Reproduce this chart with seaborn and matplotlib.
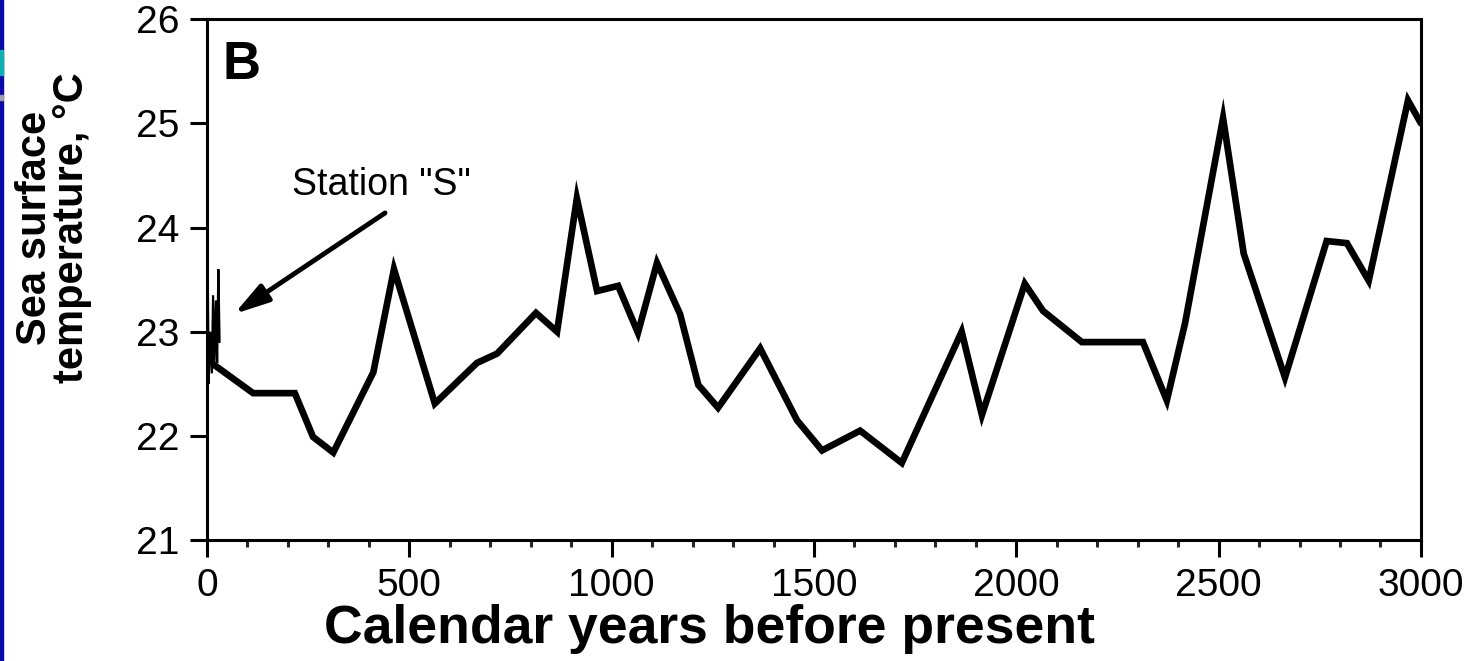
import matplotlib
matplotlib.use("Agg")
import matplotlib.pyplot as plt
from matplotlib.patches import Rectangle
from matplotlib.ticker import MultipleLocator
import seaborn as sns

# Station "S" record (thin line near present)
station_years = [0, 2, 4, 8, 12, 15, 18, 22, 25, 28, 31]
station_sst = [22.8, 23.5, 22.5, 23.0, 22.6, 23.35, 22.65, 23.3, 22.7, 23.6, 22.9]

# Core record (thick line)
core_years = [18, 114, 217, 262, 312, 411, 462, 563, 667, 717, 813, 865, 914, 964,
              1016, 1065, 1112, 1169, 1214, 1263, 1367, 1458, 1520, 1614, 1717, 1865,
              1915, 2021, 2066, 2162, 2313, 2372, 2417, 2511, 2562, 2664, 2767, 2817,
              2871, 2968, 3000]
core_sst = [22.68, 22.41, 22.41, 21.99, 21.84, 22.61, 23.60, 22.31, 22.70, 22.79, 23.18,
            23.00, 24.28, 23.39, 23.44, 22.99, 23.66, 23.17, 22.49, 22.27, 22.84, 22.15,
            21.86, 22.05, 21.74, 23.00, 22.20, 23.46, 23.20, 22.90, 22.90, 22.34, 23.08,
            25.05, 23.75, 22.56, 23.87, 23.85, 23.49, 25.22, 25.00]

x_ticks = [0, 500, 1000, 1500, 2000, 2500, 3000]
y_ticks = [21, 22, 23, 24, 25, 26]

sns.set_style("ticks")
plt.rcParams["font.family"] = ["Liberation Sans", "DejaVu Sans"]
plt.rcParams["text.color"] = "black"
plt.rcParams["axes.labelcolor"] = "black"

fig = plt.figure(figsize=(14.84, 6.61), dpi=100)
ax = fig.add_axes([0.1395, 0.183, 0.818, 0.788])

sns.lineplot(x=station_years, y=station_sst, ax=ax, color="black", lw=1.6,
             sort=False, estimator=None, solid_joinstyle="miter")
sns.lineplot(x=core_years, y=core_sst, ax=ax, color="black", lw=4.8,
             sort=False, estimator=None, solid_joinstyle="miter")

ax.set_xlim(0, 3000)
ax.set_ylim(21, 26)
ax.set_xticks(x_ticks)
ax.set_yticks(y_ticks)
ax.xaxis.set_minor_locator(MultipleLocator(100))
ax.tick_params(which="major", direction="out", length=12, width=2.2,
               labelsize=28, pad=8, color="black", labelcolor="black")
ax.tick_params(which="minor", axis="x", direction="out", length=5, width=2.2)
for s in ax.spines.values():
    s.set_visible(True)
    s.set_linewidth(2.2)
    s.set_color("black")

ax.set_xlabel("Calendar years before present", fontsize=38.5, fontweight="bold")
ax.xaxis.set_label_coords(0.414, -0.122)
ax.set_ylabel("Sea surface\ntemperature, \u00b0C", fontsize=30, fontweight="bold",
              linespacing=0.9)
ax.yaxis.set_label_coords(-0.095, 0.6)

ax.text(0.013, 0.885, "B", transform=ax.transAxes, fontsize=38, fontweight="bold",
        ha="left", va="baseline")

# Station "S" label and arrow
ax.text(432, 24.41, 'Station "S"', fontsize=27, ha="center", va="center")
ax.annotate("", xy=(67, 23.17), xytext=(440, 24.14),
            arrowprops=dict(arrowstyle="-|>,head_length=1.05,head_width=0.3",
                            mutation_scale=20, lw=3.5, color="black",
                            shrinkA=0, shrinkB=0))

# blue slide edge on the far left
fig.patches.append(Rectangle((0, 0), 3 / 1484, 1, transform=fig.transFigure,
                             color="#0a0aa8", zorder=0))
fig.patches.append(Rectangle((0, 1 - 75 / 661), 3 / 1484, 25 / 661,
                             transform=fig.transFigure, color="#10b0b0", zorder=1))
fig.patches.append(Rectangle((0, 1 - 100 / 661), 3 / 1484, 5 / 661,
                             transform=fig.transFigure, color="#a0a0a0", zorder=1))

fig.savefig("out.png", dpi=100)
